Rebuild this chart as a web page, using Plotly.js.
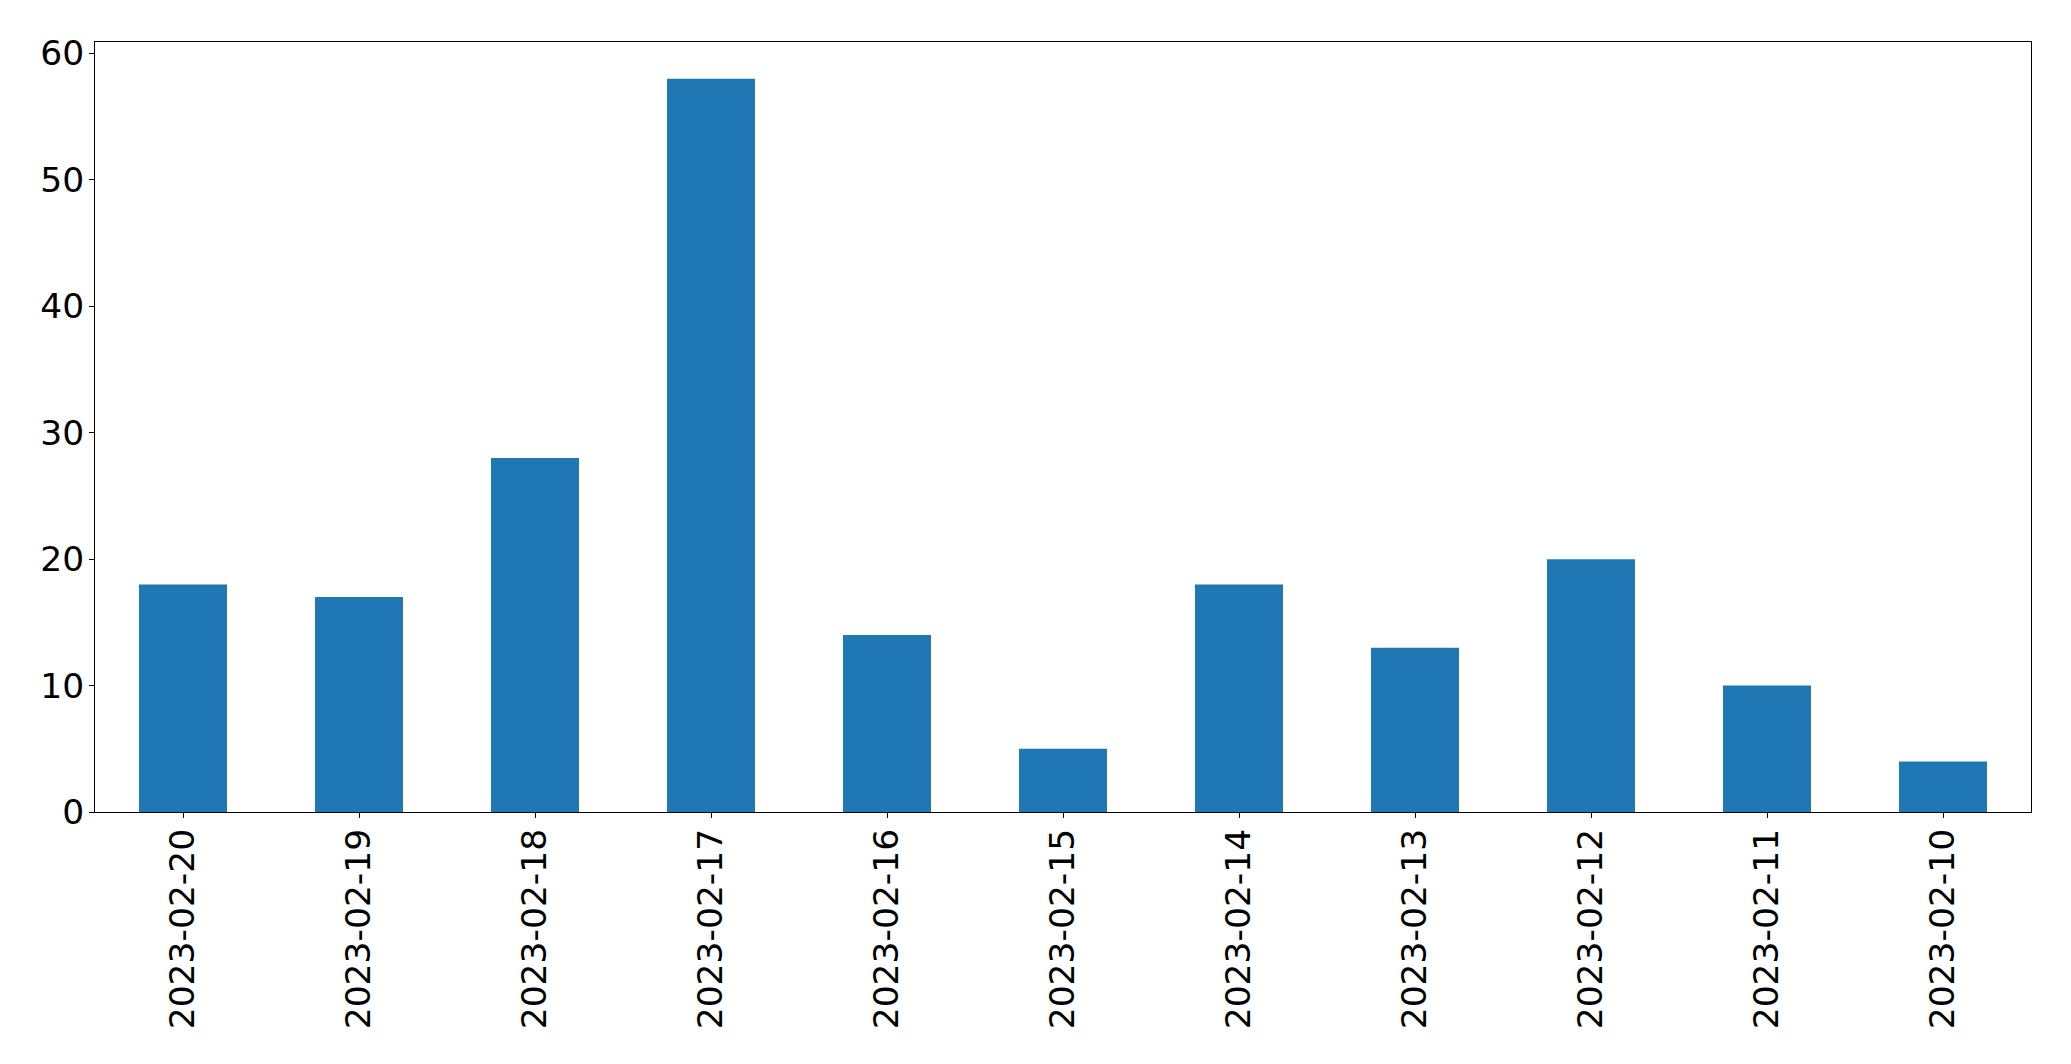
<!DOCTYPE html>
<html>
<head>
<meta charset="utf-8">
<script src="https://cdn.plot.ly/plotly-3.0.1.min.js"></script>
<style>html,body{margin:0;padding:0;background:#fff;}#chart{width:2071px;height:1064px;}</style>
</head>
<body>
<div id="chart"></div>
<script>
const dates = ["2023-02-20","2023-02-19","2023-02-18","2023-02-17","2023-02-16","2023-02-15","2023-02-14","2023-02-13","2023-02-12","2023-02-11","2023-02-10"];
const counts = [18, 17, 28, 58, 14, 5, 18, 13, 20, 10, 4];
const yTicks = [0, 10, 20, 30, 40, 50, 60];

Plotly.newPlot("chart", [{
  type: "bar",
  x: dates,
  y: counts,
  width: 0.5,
  marker: {color: "#1f77b4", line: {width: 0}},
  hoverinfo: "x+y"
}], {
  width: 2071, height: 1064,
  margin: {l: 95, r: 40, t: 42, b: 252, pad: 0, autoexpand: false},
  paper_bgcolor: "#fff", plot_bgcolor: "#fff",
  showlegend: false,
  font: {family: "DejaVu Sans", size: 34.5, color: "#000"},
  xaxis: {
    type: "category",
    range: [-0.5, 10.5],
    tickangle: -90,
    ticks: "outside", ticklen: 5, tickwidth: 1, tickcolor: "#000",
    showline: true, linecolor: "#000", linewidth: 1, mirror: true,
    showgrid: false, zeroline: false,
    automargin: false,
    tickfont: {family: "DejaVu Sans", size: 34.5, color: "#000"},
    ticklabelstandoff: -3
  },
  yaxis: {
    range: [0, 60.9],
    tickmode: "array",
    tickvals: yTicks,
    ticktext: yTicks.map(String),
    ticks: "outside", ticklen: 5, tickwidth: 1, tickcolor: "#000",
    showline: true, linecolor: "#000", linewidth: 1, mirror: true,
    showgrid: false, zeroline: false,
    automargin: false,
    tickfont: {family: "DejaVu Sans", size: 34.5, color: "#000"},
    ticklabelstandoff: -2
  }
}, {displayModeBar: false, staticPlot: true});
</script>
</body>
</html>
